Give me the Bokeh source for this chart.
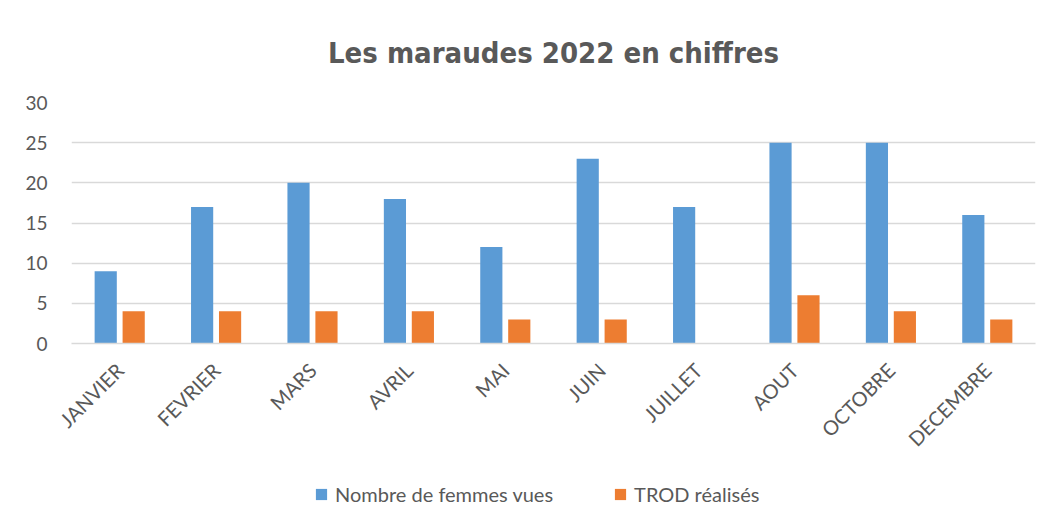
from bokeh.plotting import figure
from bokeh.models import ColumnDataSource, FactorRange, Range1d, Legend, LegendItem, SingleIntervalTicker
from bokeh.layouts import column
from bokeh.transform import dodge
from bokeh.embed import file_html
from bokeh.resources import INLINE
import math

months = ["JANVIER", "FEVRIER", "MARS", "AVRIL", "MAI", "JUIN", "JUILLET", "AOUT", "OCTOBRE", "DECEMBRE"]
femmes_vues = [9, 17, 20, 18, 12, 23, 17, 25, 25, 16]
trod_realises = [4, 4, 4, 4, 3, 3, 0, 6, 4, 3]
series_names = ["Nombre de femmes vues", "TROD réalisés"]
title_text = "Les maraudes 2022 en chiffres"
colors = ["#5B9BD5", "#ED7D31"]
text_grey = "#595959"

src = ColumnDataSource(dict(month=months, femmes=femmes_vues, trod=trod_realises))

p = figure(width=1046, height=478, x_range=FactorRange(*months, range_padding=0),
           y_range=Range1d(0, 30), output_backend="svg", toolbar_location=None,
           min_border_left=71, min_border_right=11, min_border_top=101, min_border_bottom=135)

p.title.text = title_text
p.title.align = "center"
p.title.text_font = "DejaVu Sans Condensed"
p.title.text_font_size = "29px"
p.title.text_font_style = "bold"
p.title.text_color = text_grey
p.title.offset = 0
p.title.standoff = 66

p.vbar(x=dodge("month", -0.145, range=p.x_range), top="femmes", width=0.23,
       source=src, color=colors[0], line_color=None)
p.vbar(x=dodge("month", 0.145, range=p.x_range), top="trod", width=0.23,
       source=src, color=colors[1], line_color=None)

p.outline_line_color = None
p.xgrid.grid_line_color = None
p.ygrid.grid_line_color = "#D9D9D9"
p.ygrid.grid_line_width = 1.5
p.yaxis.ticker = SingleIntervalTicker(interval=5)
p.yaxis.axis_line_color = None
p.yaxis.major_tick_line_color = None
p.yaxis.minor_tick_line_color = None
p.yaxis.major_label_standoff = 18
p.yaxis.major_label_text_font = "Lato"
p.yaxis.major_label_text_font_size = "19px"
p.yaxis.major_label_text_color = text_grey

p.xaxis.axis_line_color = "#D9D9D9"
p.xaxis.axis_line_width = 1.5
p.xaxis.major_tick_line_color = None
p.xaxis.minor_tick_line_color = None
p.xaxis.major_label_orientation = math.pi / 4
p.xaxis.major_label_standoff = 17
p.xaxis.major_label_text_font = "Lato"
p.xaxis.major_label_text_font_size = "20px"
p.xaxis.major_label_text_color = text_grey

# legend strip below the chart
lf = figure(width=1046, height=45, x_range=Range1d(0, 1), y_range=Range1d(0, 1),
            output_backend="svg", toolbar_location=None,
            x_axis_location=None, y_axis_location=None,
            min_border_left=0, min_border_right=0, min_border_top=0, min_border_bottom=0)
lf.outline_line_color = None
lf.grid.grid_line_color = None
hidden = ColumnDataSource(dict(x=[-10], top=[-10]))
g1 = lf.vbar(x="x", top="top", width=0.1, source=hidden, color=colors[0], line_color=None)
g2 = lf.vbar(x="x", top="top", width=0.1, source=hidden, color=colors[1], line_color=None)
legend = Legend(items=[LegendItem(label=series_names[0], renderers=[g1]),
                       LegendItem(label=series_names[1], renderers=[g2])],
                orientation="horizontal", location=(243, 17),
                label_text_font="Lato", label_text_font_size="20px", label_text_color=text_grey,
                glyph_width=14, glyph_height=14, spacing=60, border_line_color=None,
                background_fill_alpha=0, margin=0, padding=0, label_standoff=7)
lf.add_layout(legend, "center")

layout = column(p, lf, spacing=0)
open("out.html", "w").write(file_html(layout, INLINE))
